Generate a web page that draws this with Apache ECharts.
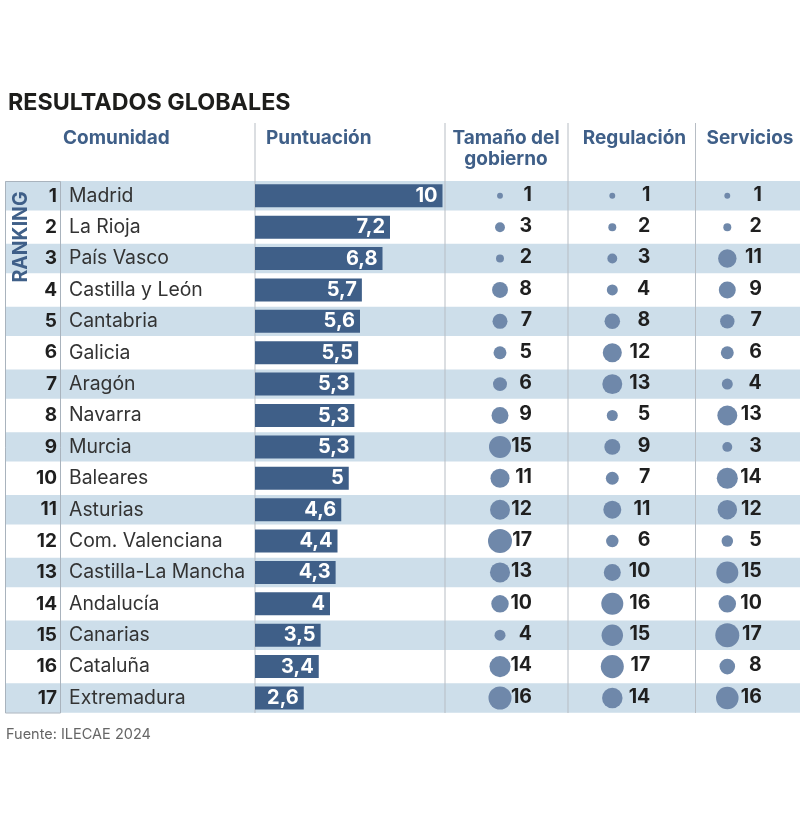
<!DOCTYPE html>
<html lang="es">
<head>
    <meta charset="UTF-8">
    <title>Resultados globales</title>
    <script src="https://cdn.jsdelivr.net/npm/echarts@6/dist/echarts.min.js"></script>
    <style>
        html, body { margin: 0; padding: 0; background: #fff; }
    </style>
</head>
<body>
<div id="main" style="width: 800px;height:840px;"></div>
<script type="text/javascript">
    // datos de la tabla
    var ranking = ['1','2','3','4','5','6','7','8','9','10','11','12','13','14','15','16','17'];
    var comunidades = ['Madrid','La Rioja','País Vasco','Castilla y León','Cantabria','Galicia','Aragón','Navarra','Murcia','Baleares','Asturias','Com. Valenciana','Castilla-La Mancha','Andalucía','Canarias','Cataluña','Extremadura'];
    var puntuacion = [10,7.2,6.8,5.7,5.6,5.5,5.3,5.3,5.3,5,4.6,4.4,4.3,4,3.5,3.4,2.6];

    var rankTamano = [1,3,2,8,7,5,6,9,15,11,12,17,13,10,4,14,16];
    var rankRegulacion = [1,2,3,4,8,12,13,5,9,7,11,6,10,16,15,17,14];
    var rankServicios = [1,2,11,9,7,6,4,13,3,14,12,5,15,10,17,8,16];

    // magnitud de cada circulo, estimada a ojo sobre el grafico (0-100)
    var magTamano = [6,17,11,44,39,29,34,50,84,63,69,100,70,53,21,77,92];
    var magRegulacion = [6,11,17,21,42,63,69,21,44,29,56,27,50,84,80,92,73];
    var magServicios = [6,11,59,50,36,29,21,69,17,77,66,23,84,53,100,42,88];

    // filas con banda de color
    var bandas = [1,0,1,0,1,0,1,0,1,0,1,0,1,0,1,0,1];

    var FONT = 'Inter';
    var AZUL = '#3f5f88';
    var CIRCULO = '#6f88aa';
    var TOP = 180.1, HEIGHT = 533.6;

    var columnas = [
        {nombre: 'Tamaño', rank: rankTamano, mag: magTamano, cx: 500, dx: 32},
        {nombre: 'Regulación', rank: rankRegulacion, mag: magRegulacion, cx: 612.3, dx: 38},
        {nombre: 'Servicios', rank: rankServicios, mag: magServicios, cx: 727.3, dx: 34.5}
    ];

    var grids = [
        {left: 5, width: 795, top: TOP, height: HEIGHT},
        {left: 60, width: 195, top: TOP, height: HEIGHT},
        {left: 255, width: 187.5, top: TOP, height: HEIGHT}
    ];
    var xAxes = [
        {gridIndex: 0, type: 'value', min: 0, max: 1, show: false},
        {gridIndex: 1, type: 'value', min: 0, max: 1, show: false},
        {gridIndex: 2, type: 'value', min: 0, max: 10, show: false}
    ];
    function ejeFilas(grid, datos, extra) {
        var eje = {
            gridIndex: grid, type: 'category', inverse: true, position: 'left', data: datos, z: 5,
            axisLine: {show: false}, axisTick: {show: false}, splitLine: {show: false},
            axisLabel: {show: false}
        };
        return Object.assign(eje, extra || {});
    }
    var yAxes = [
        ejeFilas(0, ranking),
        ejeFilas(1, ranking, {axisLabel: {show: true, margin: 3, align: 'right', color: '#1f1f1f', fontFamily: FONT, fontWeight: 700, fontSize: 19}}),
        ejeFilas(1, comunidades, {axisLabel: {show: true, margin: -9, align: 'left', color: '#333', fontFamily: FONT, fontSize: 19.4}}),
        ejeFilas(2, comunidades)
    ];

    var series = [
        {
            name: 'bandas', type: 'bar', xAxisIndex: 0, yAxisIndex: 0, data: bandas,
            barWidth: 29.4, silent: true, z: 1, itemStyle: {color: '#cddeea'}
        },
        {
            name: 'Puntuación', type: 'bar', xAxisIndex: 2, yAxisIndex: 3, data: puntuacion,
            barWidth: 23, z: 20, itemStyle: {color: AZUL},
            label: {
                show: true, position: 'insideRight', distance: 5, color: '#fff',
                fontFamily: FONT, fontWeight: 700, fontSize: 20,
                formatter: function (p) { return String(p.value).replace('.', ','); }
            }
        }
    ];

    columnas.forEach(function (col, i) {
        grids.push({left: col.cx - 50, width: 100, top: TOP, height: HEIGHT});
        xAxes.push({gridIndex: 3 + i, type: 'category', data: [col.nombre], show: false});
        yAxes.push(ejeFilas(3 + i, ranking));
        series.push({
            name: col.nombre, type: 'scatter', xAxisIndex: 3 + i, yAxisIndex: 4 + i, z: 20,
            data: col.rank.map(function (r, f) { return {value: [col.nombre, ranking[f]], rank: r, mag: col.mag[f]}; }),
            symbolSize: function (v, p) { return 24 * Math.sqrt(col.mag[p.dataIndex] / 100); },
            itemStyle: {color: CIRCULO, opacity: 1},
            label: {
                show: true, position: 'inside', align: 'right', offset: [col.dx, -1],
                color: '#1f1f1f', fontFamily: FONT, fontWeight: 700, fontSize: 19.5,
                formatter: function (p) { return String(col.rank[p.dataIndex]); }
            }
        });
    });

    function cabecera(text, left, top, align) {
        return {
            text: text, left: left, top: top, textAlign: align || 'left', padding: 0,
            textStyle: {color: AZUL, fontFamily: FONT, fontWeight: 700, fontSize: 19, lineHeight: 21}
        };
    }
    var titulos = [
        {text: 'RESULTADOS GLOBALES', left: 8, top: 91, padding: 0, textStyle: {color: '#1d1d1b', fontFamily: FONT, fontWeight: 700, fontSize: 23.3}},
        {text: 'Fuente: ILECAE 2024', left: 6, top: 727, padding: 0, textStyle: {color: '#666', fontFamily: FONT, fontWeight: 400, fontSize: 14.5}},
        cabecera('Comunidad', 63, 128),
        cabecera('Puntuación', 266, 128),
        cabecera('Tamaño del\ngobierno', 506, 128, 'center'),
        cabecera('Regulación', 634.5, 128, 'center'),
        cabecera('Servicios', 750, 128, 'center')
    ];

    // filetes verticales y recuadro del ranking
    function filete(x, y1, y2) {
        return {type: 'line', z: 10, shape: {x1: x, y1: y1, x2: x, y2: y2}, style: {stroke: '#b7bdc4', lineWidth: 1}};
    }
    var decorado = [
        filete(255, 123, 713), filete(445, 123, 713), filete(568, 123, 713), filete(695.5, 123, 713),
        {type: 'rect', z: 10, shape: {x: 5.5, y: 181.5, width: 55, height: 531.5}, style: {fill: 'none', stroke: '#a9b3bd', lineWidth: 1}},
        {
            type: 'text', z: 11, rotation: Math.PI / 2, x: 21.5, y: 237,
            style: {text: 'RANKING', fill: AZUL, font: '700 19.5px ' + FONT, textAlign: 'center', textVerticalAlign: 'middle'}
        }
    ];

    var myChart = echarts.init(document.getElementById('main'));
    myChart.setOption({
        animation: false,
        backgroundColor: '#fff',
        title: titulos,
        grid: grids,
        xAxis: xAxes,
        yAxis: yAxes,
        graphic: decorado,
        series: series
    });
</script>
</body>
</html>
